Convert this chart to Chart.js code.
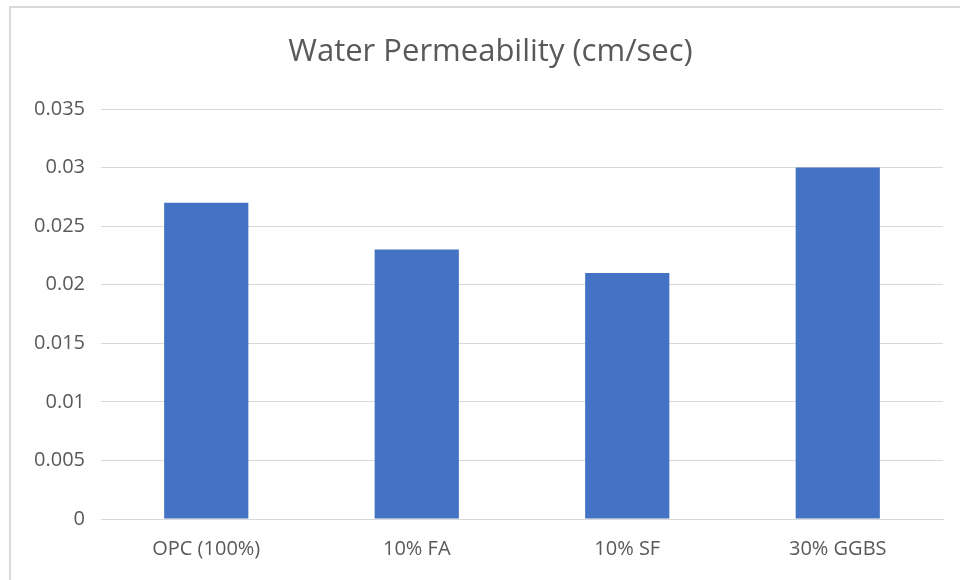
<!DOCTYPE html>
<html>
<head>
<meta charset="utf-8">
<style>
  html, body { margin: 0; padding: 0; background: #ffffff; overflow: hidden; }
  #wrap { position: relative; width: 960px; height: 580px; }
  #frame {
    position: absolute; left: 9px; top: 6px; width: 1000px; height: 640px;
    border: 2px solid #d9d9d9; box-sizing: border-box;
  }
  canvas { position: absolute; left: 0; top: 0; }
</style>
<script src="https://cdn.jsdelivr.net/npm/chart.js@4"></script>
</head>
<body>
<div id="wrap">
  <div id="frame"></div>
  <canvas id="chart" width="960" height="580"></canvas>
</div>
<script>
// Mix designs and their measured water permeability
const categories = ['OPC (100%)', '10% FA', '10% SF', '30% GGBS'];
const permeability = [0.027, 0.023, 0.021, 0.030];
const yTicks = [0, 0.005, 0.01, 0.015, 0.02, 0.025, 0.03, 0.035];

const textColor = '#595959';
const gridColor = '#d9d9d9';
const fontFamily = '"Open Sans", Lato, sans-serif';

// Centre the title on the outer chart frame rather than the canvas
const titleShift = {
  id: 'titleShift',
  afterLayout(chart) {
    if (chart.titleBlock) chart.titleBlock.left += 38;
  }
};

new Chart(document.getElementById('chart'), {
  type: 'bar',
  data: {
    labels: categories,
    datasets: [{
      label: 'Water Permeability (cm/sec)',
      data: permeability,
      backgroundColor: '#4472c4',
      borderWidth: 0,
      barPercentage: 0.4,
      categoryPercentage: 1.0
    }]
  },
  plugins: [titleShift],
  options: {
    responsive: false,
    animation: false,
    layout: { padding: { top: 32, right: 17, bottom: 0, left: 0 } },
    plugins: {
      legend: { display: false },
      tooltip: { enabled: false },
      title: {
        display: true,
        text: 'Water Permeability (cm/sec)',
        color: textColor,
        font: { family: fontFamily, size: 31, weight: 'normal', lineHeight: 1.3 },
        padding: { top: 0, bottom: 36.7 }
      }
    },
    scales: {
      x: {
        grid: { display: false, drawTicks: false },
        border: { display: true, color: gridColor, width: 1 },
        ticks: {
          color: textColor,
          font: { family: fontFamily, size: 20 },
          padding: 18,
          maxRotation: 0
        },
        afterFit(scale) { scale.height = 61; }
      },
      y: {
        min: 0,
        max: 0.035,
        afterBuildTicks(scale) {
          scale.ticks = yTicks.map(v => ({ value: v }));
        },
        grid: { color: gridColor, lineWidth: 1, drawTicks: false },
        border: { display: false },
        ticks: {
          color: textColor,
          font: { family: fontFamily, size: 20 },
          padding: 16,
          callback: v => String(parseFloat(v.toFixed(3)))
        },
        afterFit(scale) { scale.width = 101; }
      }
    }
  }
});
</script>
</body>
</html>
